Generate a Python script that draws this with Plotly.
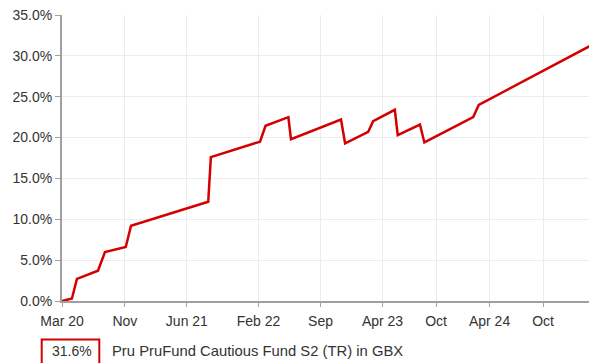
import plotly.graph_objects as go

# Cumulative total return (%) of the fund, read at the turning points of the series
dates = ["2020-03-31", "2020-05-04", "2020-05-21", "2020-08-01", "2020-08-25",
         "2020-11-04", "2020-11-22", "2021-08-13", "2021-08-22", "2022-02-06",
         "2022-02-25", "2022-05-14", "2022-05-23", "2022-11-10", "2022-11-24",
         "2023-02-11", "2023-02-28", "2023-05-13", "2023-05-23", "2023-08-07",
         "2023-08-22", "2024-02-05", "2024-02-24", "2024-03-16", "2025-03-31"]
returns = [0.0, 0.3, 2.7, 3.7, 6.0,
           6.6, 9.2, 12.15, 17.6, 19.5,
           21.45, 22.5, 19.8, 22.2, 19.3,
           20.7, 22.0, 23.4, 20.3, 21.6,
           19.4, 22.5, 24.0, 24.4, 31.6]

tick_dates = ["2020-03-31", "2020-11-01", "2021-06-01", "2022-02-01", "2022-09-01",
              "2023-04-01", "2023-10-01", "2024-04-01", "2024-10-01"]
tick_labels = ["Mar 20", "Nov", "Jun 21", "Feb 22", "Sep", "Apr 23", "Oct", "Apr 24", "Oct"]
y_ticks = [0, 5, 10, 15, 20, 25, 30, 35]
y_tick_labels = [f"{v:.1f}%" for v in y_ticks]

fund_name = "Pru PruFund Cautious Fund S2 (TR) in GBX"
RED = "#d40000"
FONT = "Liberation Sans, Arial, sans-serif"

fig = go.Figure()
fig.add_trace(go.Scatter(
    x=dates, y=returns, mode="lines",
    line=dict(color=RED, width=2.5, shape="linear"),
    hoverinfo="skip", showlegend=False,
))

fig.update_layout(
    width=589, height=363,
    margin=dict(l=62, r=0, t=15, b=62),
    paper_bgcolor="white", plot_bgcolor="white",
    font=dict(family=FONT, size=14, color="#333333"),
    xaxis=dict(
        type="date", range=["2020-03-31", "2025-03-07"],
        tickmode="array", tickvals=tick_dates, ticktext=tick_labels,
        showgrid=True, gridcolor="#ececec", gridwidth=1,
        showline=True, linecolor="#a0a0a0", linewidth=1.5,
        ticks="outside", ticklen=4, tickcolor="#a0a0a0",
        ticklabelstandoff=2,
        tickfont=dict(family=FONT, size=14, color="#333333"),
        zeroline=False, fixedrange=True,
    ),
    yaxis=dict(
        range=[0, 35], tickmode="array", tickvals=y_ticks, ticktext=y_tick_labels,
        showgrid=True, gridcolor="#ececec", gridwidth=1,
        showline=True, linecolor="#a0a0a0", linewidth=2,
        ticks="outside", ticklen=5, tickcolor="#a0a0a0",
        tickfont=dict(family=FONT, size=14, color="#333333"),
        zeroline=False, fixedrange=True,
    ),
)

# Legend row: boxed latest return followed by the fund name
fig.add_shape(
    type="rect", xref="paper", yref="paper",
    x0=-20.3 / 527, x1=37.3 / 527, y0=(301 - 375) / 286, y1=(301 - 339.5) / 286,
    line=dict(color=RED, width=2), fillcolor="white", layer="above",
)
fig.add_annotation(
    xref="paper", yref="paper", x=9.5 / 527, y=(301 - 351) / 286,
    text=f"{returns[-1]:.1f}%", showarrow=False,
    xanchor="center", yanchor="middle",
    font=dict(family=FONT, size=14, color="#333333"),
)
fig.add_annotation(
    xref="paper", yref="paper", x=(110 - 62) / 527, y=(301 - 351) / 286,
    text=fund_name, showarrow=False,
    xanchor="left", yanchor="middle",
    font=dict(family=FONT, size=14.8, color="#333333"),
)

fig.write_html("out.html")
